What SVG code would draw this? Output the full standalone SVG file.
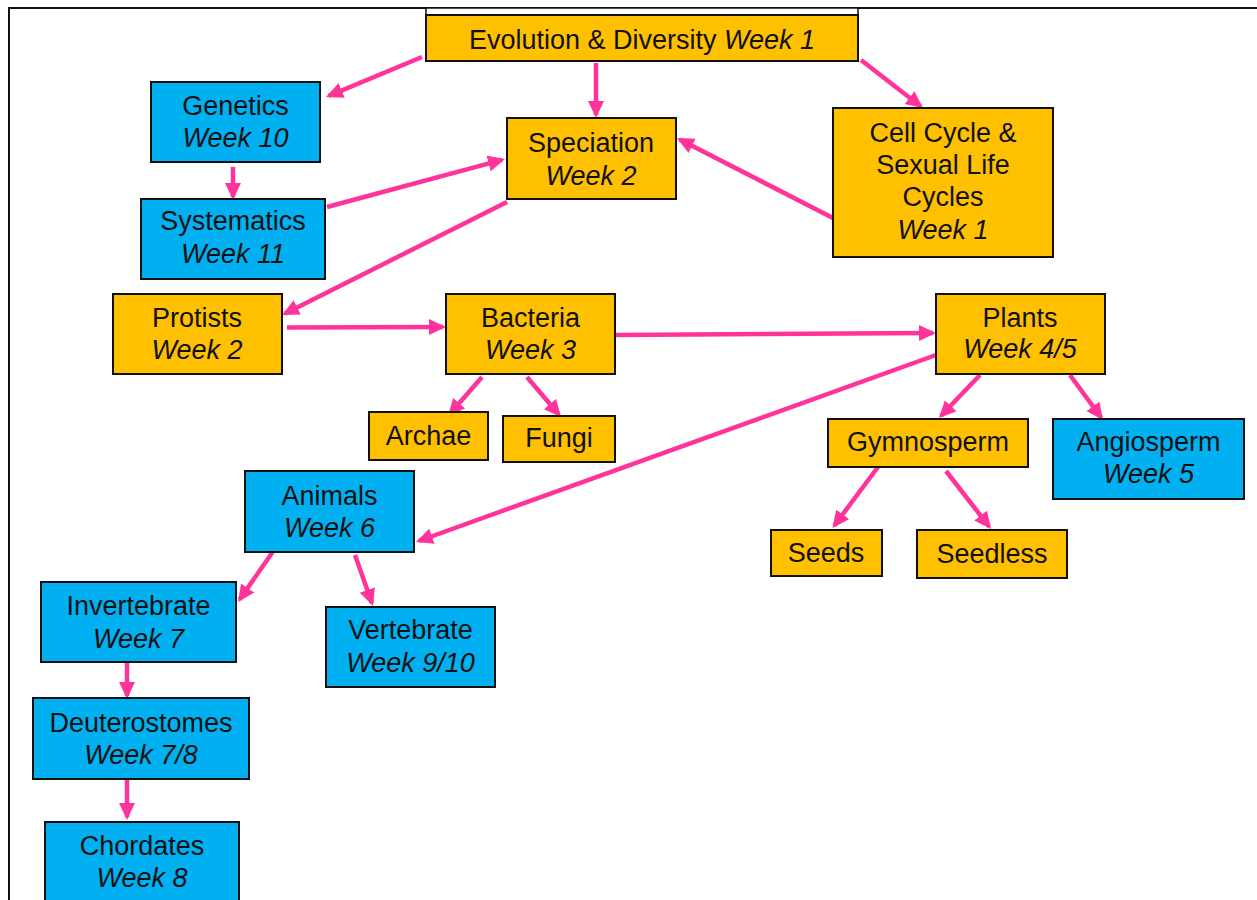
<svg xmlns="http://www.w3.org/2000/svg" width="1257" height="900" viewBox="0 0 1257 900">
  <style>
    .frame { fill: #ffffff; stroke: #111111; stroke-width: 2; }
    .gold { fill: #FFC000; stroke: #111111; stroke-width: 2; }
    .blue { fill: #00B0F0; stroke: #111111; stroke-width: 2; }
    .strip { fill: #ffffff; stroke: #111111; stroke-width: 1.5; }
    text { font-family: "Liberation Sans", Arial, sans-serif; font-size: 27px; fill: #111111; text-anchor: middle; }
    .wk { font-style: italic; }
    .link { fill: none; stroke: #FF3399; stroke-width: 4.5; }
  </style>
  <defs>
    <marker id="head" markerUnits="userSpaceOnUse" markerWidth="18" markerHeight="18" viewBox="0 0 18 18" refX="14" refY="8" orient="auto">
      <path d="M0,0 L17,8 L0,16 z" fill="#FF3399"/>
    </marker>
  </defs>

  <!-- page frame -->
  <rect class="frame" x="9" y="8" width="1260" height="910"/>

  <!-- connectors -->
  <g id="connectors" marker-end="url(#head)">
    <path class="link" d="M422,57 L328.8,95.8"/>
    <path class="link" d="M596,63 L596,115"/>
    <path class="link" d="M861,60 L920.6,106.2"/>
    <path class="link" d="M233,167 L233,197"/>
    <path class="link" d="M327,207 L502.1,159.8"/>
    <path class="link" d="M833,218 L679.7,139.4"/>
    <path class="link" d="M507,202 L284.7,313.7"/>
    <path class="link" d="M287,327.5 L443,327"/>
    <path class="link" d="M615,335 L933,333"/>
    <path class="link" d="M936,355 L418.8,541"/>
    <path class="link" d="M482,377 L450,413.7"/>
    <path class="link" d="M527,377 L559,414.7"/>
    <path class="link" d="M980,375 L941,415.8"/>
    <path class="link" d="M1070,375 L1101.2,417.6"/>
    <path class="link" d="M878,467 L834.3,525.6"/>
    <path class="link" d="M946,471 L989.2,526.6"/>
    <path class="link" d="M272.6,552 L239.7,599.5"/>
    <path class="link" d="M355,555 L372,603.2"/>
    <path class="link" d="M127,662 L127,696"/>
    <path class="link" d="M127,779 L127,817"/>
  </g>

  <!-- nodes -->
  <g id="evolution">
    <rect class="strip" x="426" y="8" width="432" height="10"/>
    <rect class="gold" x="426" y="15" width="432" height="46"/>
    <text x="642" y="49">Evolution &amp; Diversity <tspan class="wk">Week 1</tspan></text>
  </g>
  <g id="genetics">
    <rect class="blue" x="151" y="82" width="169" height="80"/>
    <text x="235.5" y="115">Genetics</text>
    <text class="wk" x="235.5" y="147">Week 10</text>
  </g>
  <g id="systematics">
    <rect class="blue" x="141" y="199" width="184" height="80"/>
    <text x="233" y="230">Systematics</text>
    <text class="wk" x="233" y="263">Week 11</text>
  </g>
  <g id="speciation">
    <rect class="gold" x="507" y="118" width="169" height="81"/>
    <text x="591" y="152">Speciation</text>
    <text class="wk" x="591" y="185">Week 2</text>
  </g>
  <g id="cellcycle">
    <rect class="gold" x="833" y="108" width="220" height="149"/>
    <text x="943" y="142">Cell Cycle &amp;</text>
    <text x="943" y="174">Sexual Life</text>
    <text x="943" y="206">Cycles</text>
    <text class="wk" x="943" y="239">Week 1</text>
  </g>
  <g id="protists">
    <rect class="gold" x="113" y="294" width="169" height="80"/>
    <text x="197" y="327">Protists</text>
    <text class="wk" x="197" y="359">Week 2</text>
  </g>
  <g id="bacteria">
    <rect class="gold" x="446" y="294" width="169" height="80"/>
    <text x="530.5" y="327">Bacteria</text>
    <text class="wk" x="530.5" y="359">Week 3</text>
  </g>
  <g id="plants">
    <rect class="gold" x="936" y="294" width="169" height="80"/>
    <text x="1020" y="327">Plants</text>
    <text class="wk" x="1020" y="358">Week 4/5</text>
  </g>
  <g id="archae">
    <rect class="gold" x="369" y="412" width="119" height="48"/>
    <text x="428.5" y="445">Archae</text>
  </g>
  <g id="fungi">
    <rect class="gold" x="503" y="416" width="112" height="46"/>
    <text x="559" y="447">Fungi</text>
  </g>
  <g id="gymnosperm">
    <rect class="gold" x="828" y="419" width="200" height="48"/>
    <text x="928" y="451">Gymnosperm</text>
  </g>
  <g id="angiosperm">
    <rect class="blue" x="1053" y="419" width="191" height="80"/>
    <text x="1148.5" y="451">Angiosperm</text>
    <text class="wk" x="1148.5" y="483">Week 5</text>
  </g>
  <g id="animals">
    <rect class="blue" x="245" y="471" width="169" height="81"/>
    <text x="329.5" y="505">Animals</text>
    <text class="wk" x="329.5" y="537">Week 6</text>
  </g>
  <g id="seeds">
    <rect class="gold" x="771" y="530" width="111" height="46"/>
    <text x="826" y="562">Seeds</text>
  </g>
  <g id="seedless">
    <rect class="gold" x="917" y="530" width="150" height="48"/>
    <text x="992" y="563">Seedless</text>
  </g>
  <g id="invertebrate">
    <rect class="blue" x="41" y="582" width="195" height="80"/>
    <text x="138.5" y="615">Invertebrate</text>
    <text class="wk" x="138.5" y="648">Week 7</text>
  </g>
  <g id="vertebrate">
    <rect class="blue" x="326" y="607" width="169" height="80"/>
    <text x="410.5" y="639">Vertebrate</text>
    <text class="wk" x="410.5" y="672">Week 9/10</text>
  </g>
  <g id="deuterostomes">
    <rect class="blue" x="33" y="698" width="216" height="81"/>
    <text x="141" y="732">Deuterostomes</text>
    <text class="wk" x="141" y="764">Week 7/8</text>
  </g>
  <g id="chordates">
    <rect class="blue" x="45" y="822" width="194" height="90"/>
    <text x="142" y="855">Chordates</text>
    <text class="wk" x="142" y="887">Week 8</text>
  </g>
</svg>
